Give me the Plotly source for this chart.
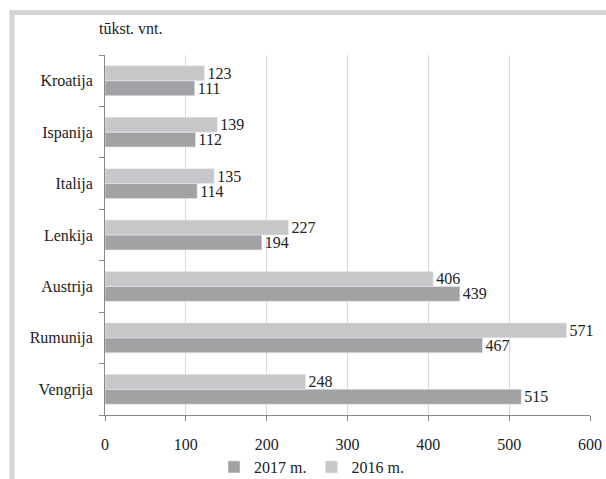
import plotly.graph_objects as go

# šalys iš apačios į viršų
salys = ["Vengrija", "Rumunija", "Austrija", "Lenkija", "Italija", "Ispanija", "Kroatija"]
v2017 = [515, 467, 439, 194, 114, 112, 111]
v2016 = [248, 571, 406, 227, 135, 139, 123]
x_ticks = [0, 100, 200, 300, 400, 500, 600]

FONT = "Liberation Serif, Times New Roman, serif"
W, H = 606, 479
L, R, T, B = 105, 606 - 590, 55, 479 - 415
pw, ph = W - L - R, H - T - B


def px_x(p):
    return (p - L) / pw


def px_y(p):
    return (H - B - p) / ph


fig = go.Figure()

fig.add_trace(
    go.Bar(
        y=salys,
        x=v2017,
        orientation="h",
        name="2017 m.",
        marker_color="#a2a2a4",
        text=v2017,
        textposition="outside",
        constraintext="none",
        textfont=dict(family=FONT, size=16, color="#222222"),
        cliponaxis=False,
    )
)
fig.add_trace(
    go.Bar(
        y=salys,
        x=v2016,
        orientation="h",
        name="2016 m.",
        marker_color="#c7c7c9",
        text=v2016,
        textposition="outside",
        constraintext="none",
        textfont=dict(family=FONT, size=16, color="#222222"),
        cliponaxis=False,
    )
)

# rėmelis aplink grafiką
fig.add_shape(
    type="rect",
    xref="paper",
    yref="paper",
    x0=px_x(12),
    x1=px_x(640),
    y0=px_y(12.5),
    y1=px_y(520),
    line=dict(color="#d4d4d4", width=5),
    fillcolor="rgba(0,0,0,0)",
    layer="below",
)

fig.add_annotation(
    text="tūkst. vnt.",
    xref="paper",
    yref="paper",
    x=px_x(97),
    y=px_y(28),
    xanchor="left",
    yanchor="middle",
    showarrow=False,
    font=dict(family=FONT, size=16, color="#222222"),
)

fig.update_layout(
    width=W,
    height=H,
    margin=dict(l=L, r=R, t=T, b=B, autoexpand=False),
    paper_bgcolor="white",
    plot_bgcolor="white",
    barmode="group",
    bargap=0.42,
    bargroupgap=0,
    font=dict(family=FONT, size=16, color="#222222"),
    showlegend=True,
    legend=dict(
        orientation="h",
        x=px_x(214),
        xanchor="left",
        yref="container",
        y=1 - 467 / H,
        yanchor="middle",
        font=dict(family=FONT, size=16, color="#222222"),
        itemwidth=30,
        traceorder="normal",
    ),
)

fig.update_xaxes(
    range=[0, 600],
    tickvals=x_ticks,
    showgrid=True,
    gridcolor="#d9d9d9",
    gridwidth=1,
    showline=True,
    linecolor="#888888",
    ticks="outside",
    ticklen=5,
    tickcolor="#888888",
    zeroline=False,
    ticklabelstandoff=10,
    automargin=False,
)
fig.update_yaxes(
    showline=True,
    linecolor="#888888",
    ticks="outside",
    ticklen=5,
    tickcolor="#888888",
    tickson="boundaries",
    showgrid=False,
    ticklabelstandoff=8,
    automargin=False,
)

# nuimam numatytąją body paraštę, slinkties juostas ir įrankių juostą
fig.write_html(
    "out.html",
    config={"displayModeBar": False},
    post_script="document.body.style.margin='0';document.body.style.overflow='hidden';",
)
